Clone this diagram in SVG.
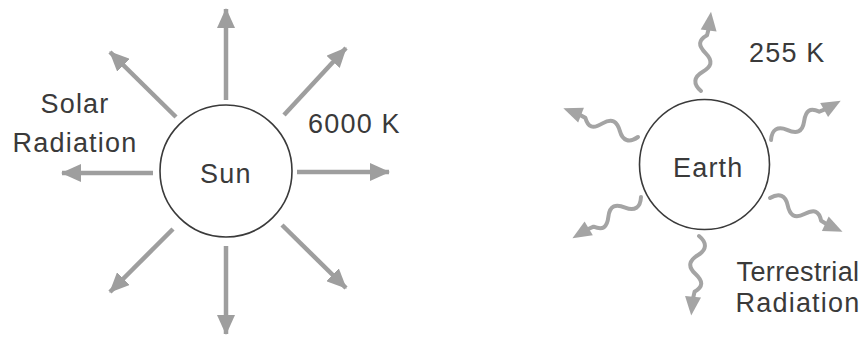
<svg xmlns="http://www.w3.org/2000/svg" width="866" height="337" viewBox="0 0 866 337">
<defs>
<style>
.lbl{font-family:"Liberation Sans",Arial,Helvetica,sans-serif;font-size:27px;fill:#3a3a3a;letter-spacing:1.2px}
.body{fill:#fff;stroke:#3a3a3a;stroke-width:1.6}
.ray{stroke:#9e9e9e;stroke-width:4.5;fill:none;stroke-linecap:butt}
.wave{stroke:#a4a4a4;stroke-width:4;fill:none;stroke-linecap:round;stroke-linejoin:round}
.whead{fill:#a4a4a4}
</style>
<marker id="ah" viewBox="0 0 20 18" refX="19" refY="9" markerWidth="20" markerHeight="18" markerUnits="userSpaceOnUse" orient="auto">
<path d="M0,0 L20,9 L0,18 Z" fill="#9e9e9e"/>
</marker>
<g id="wavy">
<path class="wave" d="M0,0 c6,-9 13,-9 19,-1 s12,10 19,1 s12,-9 18,-1 L64,0"/>
<path class="whead" d="M61,-8 L80,0 L61,8 Z"/>
</g>
</defs>
<rect width="866" height="337" fill="#fff"/>
<g id="connectors">
<line class="ray" x1="226" y1="100" x2="226" y2="9" marker-end="url(#ah)"/>
<line class="ray" x1="226" y1="246" x2="226" y2="334" marker-end="url(#ah)"/>
<line class="ray" x1="297" y1="172" x2="389" y2="172" marker-end="url(#ah)"/>
<line class="ray" x1="153" y1="173" x2="62" y2="173" marker-end="url(#ah)"/>
<line class="ray" x1="284" y1="115" x2="346" y2="48" marker-end="url(#ah)"/>
<line class="ray" x1="176" y1="117" x2="110" y2="52" marker-end="url(#ah)"/>
<line class="ray" x1="173" y1="229" x2="110" y2="292" marker-end="url(#ah)"/>
<line class="ray" x1="282" y1="225" x2="346" y2="288" marker-end="url(#ah)"/>
<use href="#wavy" transform="translate(701,91) rotate(-82.8)"/>
<use href="#wavy" transform="translate(771,140) rotate(-29.4)"/>
<use href="#wavy" transform="translate(638,137) rotate(201)"/>
<use href="#wavy" transform="translate(641,197) rotate(149)"/>
<use href="#wavy" transform="translate(770,198) rotate(25)"/>
<use href="#wavy" transform="translate(699,236) rotate(95.6)"/>
</g>
<g id="sun">
<circle class="body" cx="226" cy="171" r="66"/>
<text class="lbl" x="200" y="183">Sun</text>
</g>
<g id="earth">
<circle class="body" cx="704.5" cy="164.5" r="65"/>
<text class="lbl" x="673" y="177">Earth</text>
</g>
<g id="solar-label">
<text class="lbl" x="75" y="113" text-anchor="middle">Solar</text>
<text class="lbl" x="75" y="152" text-anchor="middle">Radiation</text>
</g>
<g id="sun-temp">
<text class="lbl" x="308" y="133">6000 K</text>
</g>
<g id="earth-temp">
<text class="lbl" x="749" y="62">255 K</text>
</g>
<g id="terrestrial-label">
<text class="lbl" x="798" y="281" text-anchor="middle" style="letter-spacing:0.4px">Terrestrial</text>
<text class="lbl" x="798" y="312" text-anchor="middle">Radiation</text>
</g>
</svg>
